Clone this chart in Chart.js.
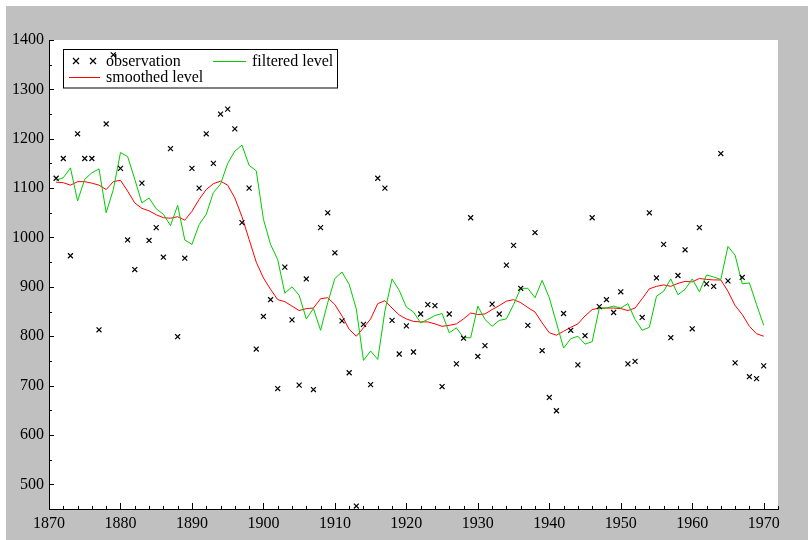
<!DOCTYPE html>
<html>
<head>
<meta charset="utf-8">
<title>Nile level</title>
<script src="https://cdn.jsdelivr.net/npm/chart.js@4.4.1/dist/chart.umd.min.js"></script>
<style>
  html, body { margin: 0; padding: 0; background: #ffffff; }
  #wrap { width: 808px; height: 540px; }
</style>
</head>
<body>
<div id="wrap"><canvas id="nile" width="808" height="540"></canvas></div>
<script>
// annual flow, 1871-1970
const firstYear = 1871;
const observation = [
  1120, 1160, 963, 1210, 1160, 1160, 813, 1230, 1370, 1140,
  995, 935, 1110, 994, 1020, 960, 1180, 799, 958, 1140,
  1100, 1210, 1150, 1250, 1260, 1220, 1030, 1100, 774, 840,
  874, 694, 940, 833, 701, 916, 692, 1020, 1050, 969,
  831, 726, 456, 824, 702, 1120, 1100, 832, 764, 821,
  768, 845, 864, 862, 698, 845, 744, 796, 1040, 759,
  781, 865, 845, 944, 984, 897, 822, 1010, 771, 676,
  649, 846, 812, 742, 801, 1040, 860, 874, 848, 890,
  744, 749, 838, 1050, 918, 986, 797, 923, 975, 815,
  1020, 906, 901, 1170, 912, 746, 919, 718, 714, 740
];
const filteredLevel = [
  1116, 1121, 1141, 1074, 1118, 1131, 1139, 1050, 1097, 1172,
  1164, 1118, 1070, 1080, 1058, 1047, 1024, 1065, 995, 986,
  1026, 1047, 1091, 1108, 1150, 1175, 1187, 1146, 1135, 1037,
  986, 955, 887, 900, 883, 835, 856, 812, 868, 917,
  930, 905, 855, 751, 770, 753, 851, 916, 893, 859,
  849, 827, 834, 842, 846, 807, 817, 797, 797, 861,
  834, 820, 832, 835, 864, 897, 897, 878, 913, 878,
  827, 776, 795, 800, 784, 789, 857, 857, 861, 857,
  866, 834, 812, 818, 881, 891, 916, 884, 895, 916,
  890, 924, 920, 915, 982, 964, 906, 908, 864, 822
];
const smoothedLevel = [
  1112, 1111, 1106, 1113, 1113, 1110, 1106, 1097, 1113, 1116,
  1094, 1070, 1059, 1054, 1046, 1040, 1039, 1042, 1035, 1053,
  1077, 1097, 1109, 1114, 1106, 1080, 1042, 996, 950, 918,
  895, 874, 870, 861, 852, 856, 857, 876, 878, 864,
  841, 814, 800, 817, 835, 866, 872, 857, 843, 835,
  830, 829, 829, 825, 820, 822, 825, 835, 847, 844,
  845, 854, 862, 871, 874, 868, 858, 849, 827, 807,
  802, 810, 818, 825, 841, 854, 857, 857, 857, 856,
  852, 857, 876, 896, 901, 904, 901, 907, 911, 910,
  917, 915, 914, 914, 891, 862, 844, 820, 805, 800
];
const xTicks = [1870, 1880, 1890, 1900, 1910, 1920, 1930, 1940, 1950, 1960, 1970];
const yTicks = [500, 600, 700, 800, 900, 1000, 1100, 1200, 1300, 1400];

const years = observation.map((_, i) => firstYear + i);
const toPoints = arr => arr.map((v, i) => ({ x: years[i], y: v }));

const SERIF = '"Liberation Serif", "DejaVu Serif", serif';

// gray panel behind the white plot area
const panelPlugin = {
  id: 'panel',
  beforeDraw(chart) {
    const ctx = chart.ctx;
    const a = chart.chartArea;
    ctx.save();
    ctx.fillStyle = '#ffffff';
    ctx.fillRect(0, 0, chart.width, chart.height);
    ctx.fillStyle = '#c0c0c0';
    ctx.fillRect(6, 6, chart.width - 6, chart.height - 6);
    ctx.fillStyle = '#ffffff';
    ctx.fillRect(a.left, a.top, a.right - a.left, a.bottom - a.top);
    ctx.restore();
  }
};

// tick marks pointing into the plot, with minor ticks between labels
const innerTicksPlugin = {
  id: 'innerTicks',
  afterDraw(chart) {
    const ctx = chart.ctx;
    const xs = chart.scales.x, ys = chart.scales.y;
    const a = chart.chartArea;
    ctx.save();
    ctx.strokeStyle = '#000';
    ctx.lineWidth = 1;
    ctx.beginPath();
    for (let yr = 1872; yr <= 1972; yr += 2) {
      const px = Math.round(xs.getPixelForValue(yr)) + 0.5;
      const len = yr % 10 === 0 ? 6 : 3;
      ctx.moveTo(px, a.bottom);
      ctx.lineTo(px, a.bottom - len);
    }
    for (let v = 500; v <= 1400; v += 50) {
      const py = Math.round(ys.getPixelForValue(v)) + 0.5;
      const len = v % 100 === 0 ? 5 : 3;
      ctx.moveTo(a.left, py);
      ctx.lineTo(a.left + len, py);
    }
    ctx.stroke();
    ctx.restore();
  }
};

// boxed legend in two columns, top left of the plot
const boxLegendPlugin = {
  id: 'boxLegend',
  beforeDatasetsDraw(chart) {
    const ctx = chart.ctx;
    const ds = chart.data.datasets;
    ctx.save();
    ctx.strokeStyle = '#000';
    ctx.lineWidth = 1;
    ctx.strokeRect(63.5, 49.5, 274, 38.5);

    ctx.font = '16px ' + SERIF;
    ctx.fillStyle = '#000';
    ctx.textBaseline = 'alphabetic';
    ctx.textAlign = 'left';

    // observation: two crosses
    ctx.lineWidth = 1.2;
    ctx.strokeStyle = ds[0].borderColor;
    [76, 93].forEach(cx => {
      ctx.beginPath();
      ctx.moveTo(cx - 3, 58); ctx.lineTo(cx + 3, 64);
      ctx.moveTo(cx + 3, 58); ctx.lineTo(cx - 3, 64);
      ctx.stroke();
    });
    ctx.fillText(ds[0].label, 106, 66);

    // filtered level
    ctx.lineWidth = 1;
    ctx.strokeStyle = ds[1].borderColor;
    ctx.beginPath();
    ctx.moveTo(213, 61.5); ctx.lineTo(246, 61.5);
    ctx.stroke();
    ctx.fillText(ds[1].label, 252, 66);

    // smoothed level
    ctx.strokeStyle = ds[2].borderColor;
    ctx.beginPath();
    ctx.moveTo(69, 77.5); ctx.lineTo(100, 77.5);
    ctx.stroke();
    ctx.fillText(ds[2].label, 106, 82);
    ctx.restore();
  }
};

new Chart(document.getElementById('nile'), {
  type: 'line',
  data: {
    datasets: [
      {
        label: 'observation',
        data: toPoints(observation),
        showLine: false,
        pointStyle: 'crossRot',
        pointRadius: 3.5,
        pointBorderWidth: 1.2,
        borderColor: '#000000',
        backgroundColor: '#000000'
      },
      {
        label: 'filtered level',
        data: toPoints(filteredLevel),
        borderColor: '#00cc00',
        borderWidth: 1,
        pointRadius: 0,
        tension: 0,
        fill: false
      },
      {
        label: 'smoothed level',
        data: toPoints(smoothedLevel),
        borderColor: '#ff0000',
        borderWidth: 1,
        pointRadius: 0,
        tension: 0,
        fill: false
      }
    ]
  },
  options: {
    responsive: false,
    animation: false,
    devicePixelRatio: 1,
    layout: { padding: { top: 40, right: 30, left: 0, bottom: 0 } },
    plugins: {
      legend: { display: false },
      tooltip: { enabled: false }
    },
    scales: {
      x: {
        type: 'linear',
        min: 1870,
        max: 1972,
        afterFit: s => { s.height = 31; },
        afterBuildTicks: s => { s.ticks = xTicks.map(v => ({ value: v })); },
        grid: { display: false, drawTicks: false },
        border: { display: true, color: '#000', width: 1 },
        ticks: {
          color: '#000',
          padding: 5,
          maxRotation: 0,
          autoSkip: false,
          font: { family: SERIF, size: 16 },
          callback: v => String(v)
        }
      },
      y: {
        min: 450,
        max: 1400,
        afterFit: s => { s.width = 49; },
        afterBuildTicks: s => { s.ticks = yTicks.map(v => ({ value: v })); },
        grid: { display: false, drawTicks: false },
        border: { display: true, color: '#000', width: 1 },
        ticks: {
          color: '#000',
          padding: 5,
          autoSkip: false,
          font: { family: SERIF, size: 16 },
          callback: v => String(v)
        }
      }
    }
  },
  plugins: [panelPlugin, innerTicksPlugin, boxLegendPlugin]
});
</script>
</body>
</html>
